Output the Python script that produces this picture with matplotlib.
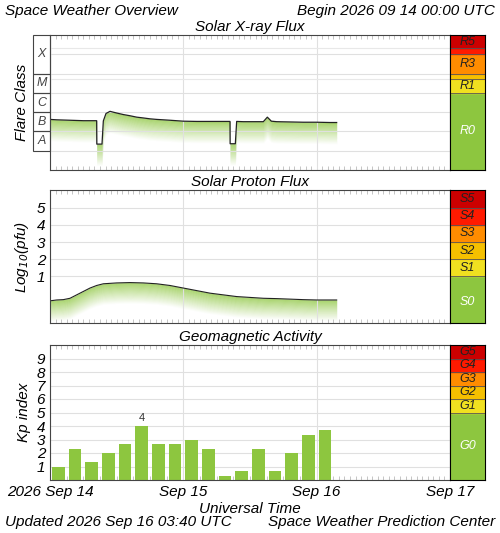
import matplotlib
matplotlib.use("Agg")
import matplotlib.pyplot as plt
import numpy as np
from matplotlib.patches import Rectangle

plt.rcParams['font.family'] = ['Liberation Sans', 'DejaVu Sans']
plt.rcParams['font.style'] = 'italic'

# ---- data ----
xray_t = [0.0, 0.05, 0.1, 0.15, 0.2, 0.25, 0.3, 0.35, 0.351, 0.39, 0.40, 0.42, 0.45, 0.5, 0.55, 0.6, 0.65, 0.7,
          0.75, 0.8, 0.85, 0.9, 1.0, 1.1, 1.2, 1.3, 1.35, 1.351, 1.39, 1.40, 1.45, 1.5, 1.6, 1.63, 1.66, 1.7,
          1.8, 1.9, 2.0, 2.1, 2.15]
xray_f = [4.2e-7, 4.0e-7, 3.9e-7, 3.8e-7, 3.7e-7, 3.6e-7, 3.6e-7, 3.6e-7, 2.2e-8, 2.2e-8, 3.5e-7, 8.5e-7, 1.1e-6,
          9e-7, 7.5e-7, 6.5e-7, 5.5e-7, 5e-7, 4.5e-7, 4.2e-7, 4.0e-7, 3.8e-7, 3.4e-7, 3.3e-7, 3.3e-7, 3.3e-7,
          3.3e-7, 2.3e-8, 2.3e-8, 3.3e-7, 3.2e-7, 3.2e-7, 3.2e-7, 5.5e-7, 3.4e-7, 3.2e-7, 3.1e-7, 3.0e-7,
          3.0e-7, 2.9e-7, 2.9e-7]
proton_t = [0.0, 0.05, 0.1, 0.15, 0.2, 0.25, 0.3, 0.35, 0.4, 0.5, 0.6, 0.7, 0.8, 0.9, 1.0, 1.1, 1.2, 1.3,
            1.4, 1.5, 1.6, 1.7, 1.8, 1.9, 2.0, 2.1, 2.15]
proton_v = [-0.45, -0.4, -0.38, -0.3, -0.1, 0.1, 0.3, 0.45, 0.55, 0.6, 0.62, 0.6, 0.55, 0.45, 0.3, 0.15, 0.0,
            -0.1, -0.2, -0.25, -0.3, -0.32, -0.35, -0.38, -0.4, -0.4, -0.4]
kp_values = [1.0, 2.33, 1.33, 2.0, 2.67, 4.0, 2.67, 2.67, 3.0, 2.33, 0.33, 0.67, 2.33, 0.67, 2.0, 3.33, 3.67]
day_labels = ["2026 Sep 14", "Sep 15", "Sep 16", "Sep 17"]
flare_classes = ["A", "B", "C", "M", "X"]
green = "#8dc63f"

W, H = 500, 533
fig = plt.figure(figsize=(5, 5.33), dpi=100)

def fr(l, t, r, b):
    return [l / W, 1 - b / H, (r - l) / W, (b - t) / H]

def style_time_axis(ax, last=False):
    ax.set_xlim(0, 3)
    ax.set_xticks([0, 1, 2, 3])
    ax.set_xticks(np.arange(0, 3, 1 / 24), minor=True)
    ax.tick_params(axis='x', which='minor', direction='in', length=3, color='#bbbbbb', top=True, bottom=True)
    ax.tick_params(axis='x', which='major', length=0)
    ax.grid(True, axis='x', which='major', color='#e0e0e0', lw=0.8)
    if last:
        ax.set_xticklabels(day_labels, fontsize=11)
    else:
        ax.set_xticklabels([])
    for s in ax.spines.values():
        s.set_color('#444444')

def gradient_fill(ax, x, ytop, depth, n=40, logscale=False):
    x = np.asarray(x); ytop = np.asarray(ytop)
    for k in range(n):
        if logscale:
            a = ytop * 10 ** (-depth * k / n); b = ytop * 10 ** (-depth * (k + 1) / n)
        else:
            a = ytop - depth * k / n; b = ytop - depth * (k + 1) / n
        f = 1 - k / n
        col = np.array([0x8d, 0xc6, 0x3f]) / 255 * f + np.ones(3) * (1 - f)
        ax.fill_between(x, b, a, color=col, lw=0, antialiased=False)

# ---- X-ray ----
ax1 = fig.add_axes(fr(50, 35, 450, 170))
ax1.set_yscale('log'); ax1.set_ylim(1e-9, 1e-2)
ax1.set_yticks([]); ax1.minorticks_off()
style_time_axis(ax1)
for d in range(-8, -2):
    ax1.axhline(10.0 ** d, color='#e0e0e0', lw=0.8)
for v in [5e-5, 2e-3]:
    ax1.axhline(v, color='#e8e8e8', lw=0.8)
ax1.set_xticks(np.arange(0, 3, 1 / 24), minor=True)
ax1.tick_params(axis='x', which='minor', direction='in', length=3, color='#bbbbbb', top=True, bottom=True)
gradient_fill(ax1, xray_t, xray_f, 1.1, logscale=True)
ax1.plot(xray_t, xray_f, color='#222222', lw=0.9)
ax1.set_title("Solar X-ray Flux", fontsize=11, pad=3)
bounds = [1e-8, 1e-7, 1e-6, 1e-5, 1e-4, 1e-2]
for i, c in enumerate(flare_classes):
    lo, hi = bounds[i], bounds[i + 1]
    y0 = (np.log10(lo) + 9) / 7; y1 = (np.log10(hi) + 9) / 7
    ax1.add_patch(Rectangle((-17 / 400, y0), 17 / 400, y1 - y0, transform=ax1.transAxes, fill=False,
                            ec='#444444', lw=0.8, clip_on=False))
    ax1.text(-8.5 / 400, (y0 + y1) / 2, c, transform=ax1.transAxes, ha='center', va='center',
             fontsize=9, color='#444444')
ax1.text(-28 / 400, 0.5, "Flare Class", transform=ax1.transAxes, rotation=90, ha='center', va='center',
         fontsize=11)

dark = '#222222'
c1 = fig.add_axes(fr(450, 35, 485, 170))
c1.set_yscale('log'); c1.set_ylim(1e-9, 1e-2); c1.set_xlim(0, 1)
c1.set_xticks([]); c1.set_yticks([]); c1.minorticks_off()
rbands = [(1e-9, 1e-5, green, "R0", 'white'), (1e-5, 5e-5, '#f0e020', "R1", dark),
          (5e-5, 1e-4, '#f5c000', "", ''), (1e-4, 1e-3, '#ff8c00', "R3", dark),
          (1e-3, 2e-3, '#ff1a00', "", ''), (2e-3, 1e-2, '#cc0000', "R5", dark)]
for lo, hi, col, lab, tc in rbands:
    c1.axhspan(lo, hi, color=col, zorder=1)
    c1.axhline(hi, color='#555555', lw=0.6, zorder=2)
    if lab:
        c1.text(0.5, np.sqrt(lo * hi) if lab != "R0" else 1e-7, lab, ha='center', va='center', fontsize=9,
                color=tc, zorder=5)

# ---- Proton ----
ax2 = fig.add_axes(fr(50, 190, 450, 323))
ax2.set_ylim(-1.75, 6.05)
style_time_axis(ax2)
ax2.set_yticks([1, 2, 3, 4, 5])
ax2.tick_params(axis='y', length=0, labelsize=11)
ax2.grid(True, axis='y', color='#e0e0e0', lw=0.8)
gradient_fill(ax2, proton_t, proton_v, 1.2)
ax2.plot(proton_t, proton_v, color='#222222', lw=0.8)
ax2.set_title("Solar Proton Flux", fontsize=11, pad=3)
ax2.set_ylabel("Log$_{10}$(pfu)", fontsize=11)

c2 = fig.add_axes(fr(450, 190, 485, 323))
c2.set_ylim(-1.75, 6.05); c2.set_xlim(0, 1); c2.set_xticks([]); c2.set_yticks([])
sb = [(-1.75, 1, green, "S0", 'white'), (1, 2, '#f0e020', "S1", dark), (2, 3, '#f5c000', "S2", dark),
      (3, 4, '#ff8c00', "S3", dark), (4, 5, '#ff1a00', "S4", dark), (5, 6.05, '#cc0000', "S5", dark)]
for lo, hi, col, lab, tc in sb:
    c2.axhspan(lo, hi, color=col, zorder=1); c2.axhline(hi, color='#555555', lw=0.6, zorder=2)
    c2.text(0.5, (lo + hi) / 2 if lab != "S0" else -0.5, lab, ha='center', va='center', fontsize=9, color=tc,
            zorder=5)

# ---- Kp ----
ax3 = fig.add_axes(fr(50, 345, 450, 480))
ax3.set_ylim(0, 10)
style_time_axis(ax3, last=True)
ax3.set_yticks(range(1, 10))
ax3.tick_params(axis='y', length=0, labelsize=11)
ax3.grid(True, axis='y', color='#e0e0e0', lw=0.8)
ax3.set_axisbelow(True)
xc = np.arange(len(kp_values)) / 8 + 1 / 16
ax3.bar(xc, kp_values, width=0.75 / 8, color=green)
imax = int(np.argmax(kp_values))
ax3.text(xc[imax], kp_values[imax] + 0.2, f"{kp_values[imax]:.0f}", ha='center', va='bottom', fontsize=8,
         style='normal', color='#333333')
ax3.set_title("Geomagnetic Activity", fontsize=11, pad=3)
ax3.set_ylabel("Kp index", fontsize=11)
ax3.set_xlabel("Universal Time", fontsize=11, labelpad=2)

c3 = fig.add_axes(fr(450, 345, 485, 480))
c3.set_ylim(0, 10); c3.set_xlim(0, 1); c3.set_xticks([]); c3.set_yticks([])
gb = [(0, 5, green, "G0", 'white'), (5, 6, '#f0e020', "G1", dark), (6, 7, '#f5c000', "G2", dark),
      (7, 8, '#ff8c00', "G3", dark), (8, 9, '#ff1a00', "G4", dark), (9, 10, '#cc0000', "G5", dark)]
for lo, hi, col, lab, tc in gb:
    c3.axhspan(lo, hi, color=col, zorder=1); c3.axhline(hi, color='#555555', lw=0.6, zorder=2)
    c3.text(0.5, (lo + hi) / 2 if lab != "G0" else 2.5, lab, ha='center', va='center', fontsize=9, color=tc,
            zorder=5)

fig.text(5 / W, 1 - 11 / H, "Space Weather Overview", fontsize=11, va='center')
fig.text(495 / W, 1 - 11 / H, "Begin 2026 09 14 00:00 UTC", fontsize=11, va='center', ha='right')
fig.text(5 / W, 1 - 522 / H, "Updated 2026 Sep 16 03:40 UTC", fontsize=11, va='center')
fig.text(495 / W, 1 - 522 / H, "Space Weather Prediction Center", fontsize=11, va='center', ha='right')

fig.savefig("out.png", dpi=100, facecolor='white')
